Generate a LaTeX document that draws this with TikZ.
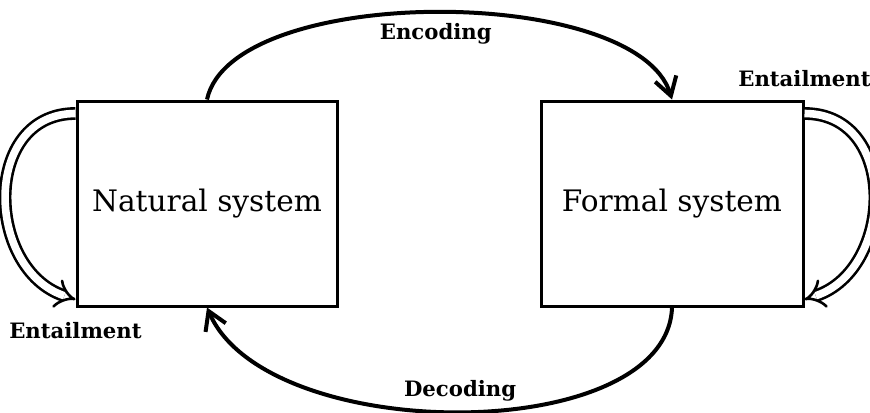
\documentclass[tikz,border=0pt]{standalone}
\usepackage{fontspec}
\setmainfont{DejaVu Serif}
\usetikzlibrary{arrows.meta,positioning}
\tikzset{
  sysbox/.style={draw, line width=1.5pt, minimum width=130pt, minimum height=102.5pt,
    font=\fontsize{14.8}{18}\selectfont},
  flow/.style={line width=2pt, -{Straight Barb[length=9pt,width=11pt]}},
  entail/.style={double, line width=1.3pt, double distance=3.8pt, -{Implies[scale=1.5]}},
  lbl/.style={font=\fontsize{10.6}{12}\selectfont\bfseries}
}
\begin{document}
\begin{tikzpicture}[x=0.5pt, y=-0.5pt]
  \useasboundingbox (0,0) rectangle (870,412);
  \node[sysbox] (nat) at (207,203.5) {Natural system};
  \node[sysbox, minimum width=131pt] (form) at (672,203.5) {Formal system};
  % encoding over the top, decoding under the bottom
  \draw[flow] (nat.north) .. controls +(25,-116) and +(-35,-116) .. (form.north)
    node[lbl, pos=0.5, below=1pt] {Encoding};
  \draw[flow] (form.south) .. controls +(-5,139) and +(60,139) .. (nat.south)
    node[lbl, pos=0.5, above=1pt] {Decoding};
  % entailment loops on the sides
  \coordinate (n1) at ([yshift=-7pt]nat.north west);
  \coordinate (n2) at ([yshift=4pt]nat.south west);
  \coordinate (f1) at ([yshift=-7pt]form.north east);
  \coordinate (f2) at ([yshift=4pt]form.south east);
  \draw[entail] (n1) .. controls +(-94,0) and +(-90,-30) .. (n2);
  \draw[entail] (f1) .. controls +(94,0) and +(90,-30) .. (f2);
  \node[lbl, below=4pt of nat.south west] {Entailment};
  \node[lbl, above=3pt of form.north east] {Entailment};
\end{tikzpicture}
\end{document}
